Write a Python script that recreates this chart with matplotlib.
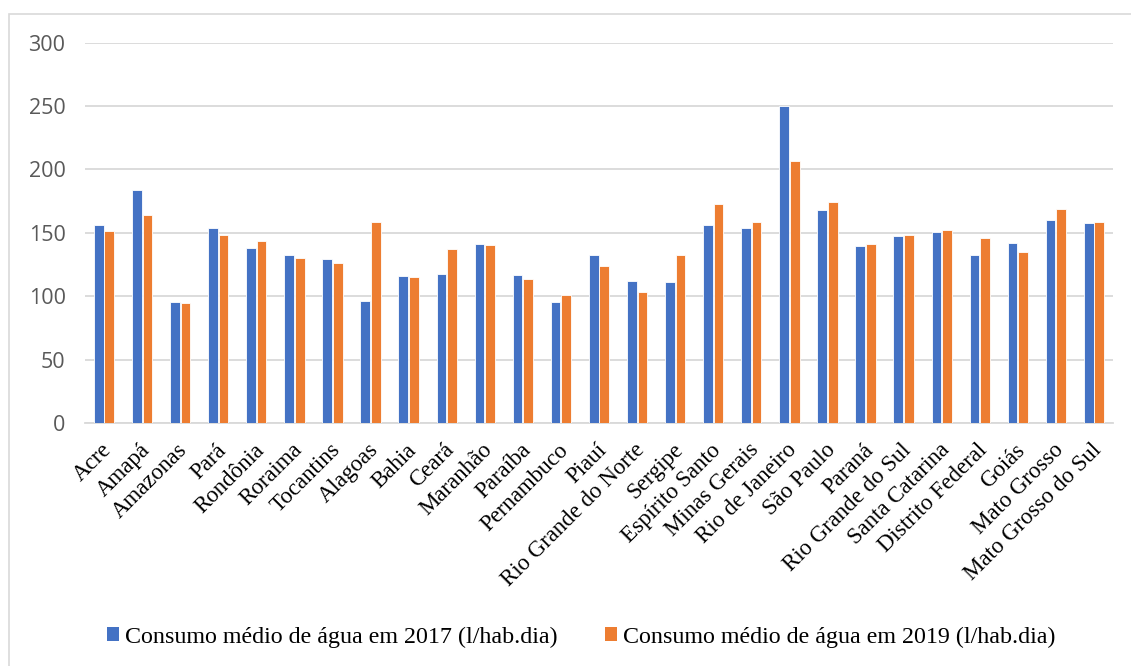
import matplotlib
matplotlib.use("Agg")
import matplotlib.pyplot as plt
from matplotlib.patches import Rectangle, Patch
from matplotlib.transforms import ScaledTranslation
import numpy as np

states = ["Acre", "Amapá", "Amazonas", "Pará", "Rondônia", "Roraima", "Tocantins",
          "Alagoas", "Bahia", "Ceará", "Maranhão", "Paraíba", "Pernambuco", "Piauí",
          "Rio Grande do Norte", "Sergipe", "Espírito Santo", "Minas Gerais",
          "Rio de Janeiro", "São Paulo", "Paraná", "Rio Grande do Sul",
          "Santa Catarina", "Distrito Federal", "Goiás", "Mato Grosso",
          "Mato Grosso do Sul"]
consumo_2017 = [156.3, 183.9, 95.6, 154.2, 138.4, 132.6, 129.0, 95.9, 115.6, 117.7,
                141.1, 116.4, 95.4, 132.4, 111.9, 111.6, 156.3, 154.2, 249.8, 167.8,
                139.7, 147.6, 150.8, 132.4, 142.1, 160.5, 157.9]
consumo_2019 = [151.6, 164.2, 94.8, 148.4, 143.7, 130.3, 126.3, 158.7, 115.3, 137.4,
                140.5, 113.5, 101.1, 124.0, 103.5, 132.9, 173.1, 158.9, 207.0, 174.2,
                141.1, 148.2, 152.4, 145.8, 135.0, 168.9, 158.4]
series_labels = ["Consumo médio de água em 2017 (l/hab.dia)",
                 "Consumo médio de água em 2019 (l/hab.dia)"]
y_ticks = [0, 50, 100, 150, 200, 250, 300]

BLUE = "#4472C4"
ORANGE = "#ED7D31"
GRID = "#D9D9D9"
W, H = 1131, 666

fig = plt.figure(figsize=(W / 100, H / 100), dpi=100)
fig.patch.set_facecolor("white")

# outer chart frame
fig.patches.append(Rectangle((8.5 / W, -0.1), 1.2, 1 - 13.5 / H + 0.1,
                             transform=fig.transFigure, fill=False,
                             edgecolor=GRID, linewidth=1.2, zorder=0))

ax = fig.add_axes([85 / W, 1 - 423 / H, (1113 - 85) / W, (423 - 42.7) / H])
x = np.arange(len(states))
bw = 0.255
ax.bar(x - bw / 2 - 0.012, consumo_2017, width=bw, color=BLUE,
       edgecolor="white", linewidth=0.6, zorder=3)
ax.bar(x + bw / 2 + 0.012, consumo_2019, width=bw, color=ORANGE,
       edgecolor="white", linewidth=0.6, zorder=3)

ax.set_xlim(-0.5, len(states) - 0.5)
ax.set_ylim(0, 300)
ax.set_yticks(y_ticks)
ax.set_yticklabels([str(v) for v in y_ticks], fontfamily="Open Sans",
                   fontsize=15.5, color="#595959")
ax.yaxis.grid(True, color=GRID, linewidth=1.3, zorder=0)
ax.tick_params(axis="y", length=0, pad=14)
ax.tick_params(axis="x", length=0, pad=4)
for s in ["top", "right", "left"]:
    ax.spines[s].set_visible(False)
ax.spines["bottom"].set_color(GRID)
ax.spines["bottom"].set_linewidth(1.3)

ax.set_xticks(x)
ax.set_xticklabels(states, rotation=45, ha="right", va="top",
                   rotation_mode="anchor", fontfamily="Liberation Serif",
                   fontsize=16.5, color="black")
shift = ScaledTranslation(-3 / 100, -11 / 100, fig.dpi_scale_trans)
for lab in ax.get_xticklabels():
    lab.set_transform(lab.get_transform() + shift)

handles = [Patch(facecolor=BLUE, edgecolor="none"),
           Patch(facecolor=ORANGE, edgecolor="none")]
fig.legend(handles, series_labels, loc="center", bbox_to_anchor=(581 / W, 1 - 637 / H),
           ncol=2, frameon=False, handlelength=0.5, handleheight=0.5,
           handletextpad=0.25, columnspacing=2.0,
           prop={"family": "Liberation Serif", "size": 17.3})

fig.savefig("out.png", dpi=100, facecolor="white")
